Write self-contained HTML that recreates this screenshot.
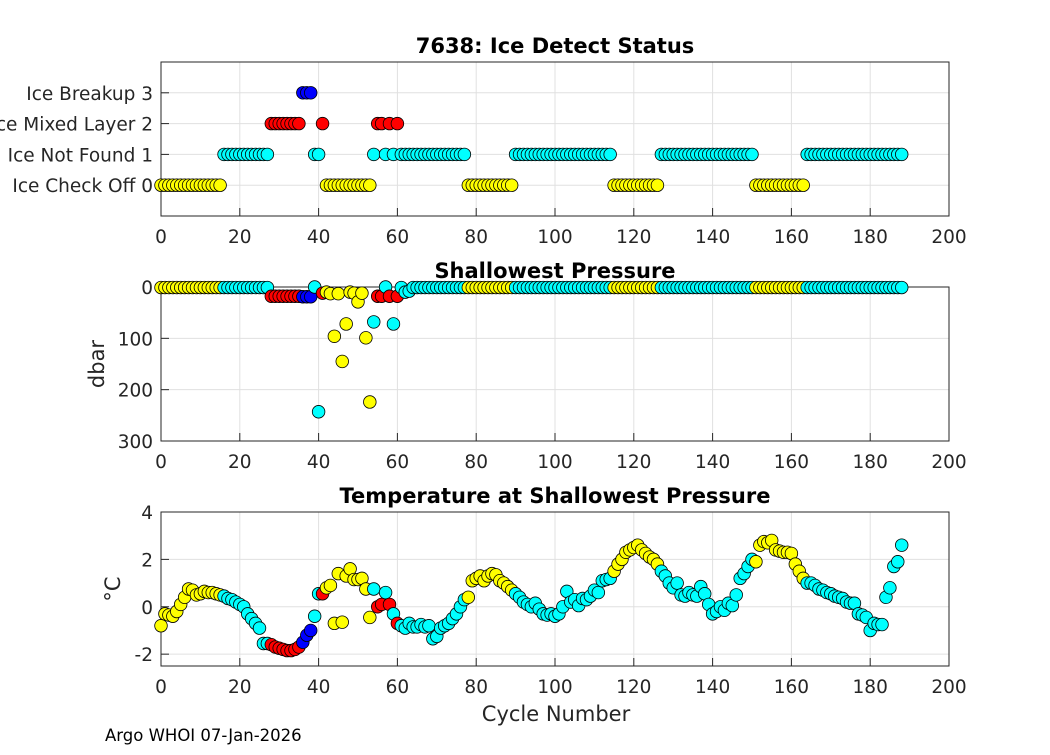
<!DOCTYPE html>
<html><head><meta charset="utf-8"><style>
body{margin:0;background:#fff;}
svg text{font-family:"DejaVu Sans","Liberation Sans",sans-serif;}
</style></head><body>
<svg id="fig" width="1050" height="750" xmlns="http://www.w3.org/2000/svg">
<rect width="1050" height="750" fill="#fff"/>
<g id="g1"></g>
<g id="g2"></g>
<g id="g3"></g>
<text x="105" y="741" font-size="16.5" fill="#000">Argo WHOI 07-Jan-2026</text>
</svg>
<script>
const statusRanges=[[0,15,0],[16,27,1],[28,35,2],[36,38,3],[39,40,1],[41,41,2],[42,53,0],[54,54,1],[55,56,2],[57,57,1],[58,58,2],[59,59,1],[60,60,2],[61,77,1],[78,89,0],[90,114,1],[115,126,0],[127,150,1],[151,163,0],[164,188,1]];
const pressureOverrides={39:0,40:243,41:12,42:10,43:13,44:96,45:13,46:145,47:72,48:10,49:12,50:29,51:12,52:99,53:224,54:68,57:0,59:72,62:10,63:8};
const temps=[-0.8,-0.3,-0.35,-0.4,-0.2,0.1,0.4,0.75,0.7,0.5,0.55,0.65,0.6,0.6,0.55,0.5,0.45,0.35,0.3,0.2,0.1,0.0,-0.3,-0.5,-0.7,-0.9,-1.55,-1.55,-1.6,-1.7,-1.75,-1.8,-1.85,-1.85,-1.8,-1.7,-1.5,-1.2,-1.0,-0.4,0.55,0.55,0.8,0.9,-0.7,1.4,-0.65,1.3,1.6,1.15,1.15,1.2,0.75,-0.45,0.75,0.0,0.1,0.6,0.1,-0.3,-0.7,-0.8,-0.9,-0.7,-0.85,-0.85,-0.75,-0.85,-0.8,-1.35,-1.25,-0.9,-0.8,-0.7,-0.5,-0.3,0.0,0.3,0.4,1.1,1.2,1.3,1.1,1.3,1.4,1.35,1.1,1.0,0.85,0.7,0.55,0.4,0.2,0.1,0.0,0.15,-0.1,-0.3,-0.35,-0.3,-0.4,-0.3,0.0,0.65,0.2,0.3,0.05,0.35,0.3,0.45,0.7,0.6,1.1,1.15,1.2,1.5,1.8,2.0,2.3,2.4,2.5,2.6,2.4,2.25,2.1,2.0,1.8,1.5,1.3,1.0,0.8,1.0,0.5,0.45,0.6,0.5,0.45,0.85,0.55,0.1,-0.3,-0.2,0.0,-0.15,0.15,0.05,0.5,1.2,1.4,1.7,2.0,1.9,2.6,2.75,2.7,2.8,2.4,2.35,2.3,2.3,2.25,1.8,1.5,1.2,1.0,1.0,0.9,0.75,0.7,0.6,0.55,0.45,0.4,0.35,0.2,0.15,0.15,-0.3,-0.35,-0.45,-1.0,-0.7,-0.75,-0.75,0.4,0.8,1.7,1.9,2.6];
const xTicks=[0,20,40,60,80,100,120,140,160,180,200];
const statusLabels=["Ice Check Off 0","Ice Not Found 1","Ice Mixed Layer 2","Ice Breakup 3"];
const pTicks=[0,100,200,300];
const tTicks=[-2,0,2,4];
const colors=["#ffff00","#00ffff","#ff0000","#0000ff"];

const NS="http://www.w3.org/2000/svg";
function mk(parent,tag,attrs){const e=document.createElementNS(NS,tag);for(const k in attrs)e.setAttribute(k,attrs[k]);parent.appendChild(e);return e;}
const X0=161,X1=949;
const xs=c=>X0+(c/200)*(X1-X0);
const cycles=temps.map((_,i)=>i);
const status=cycles.map(c=>{for(const r of statusRanges)if(c>=r[0]&&c<=r[1])return r[2];return 1;});
const pres=cycles.map(c=>{if(c in pressureOverrides)return pressureOverrides[c];const s=status[c];return s===2?18:(s===3?19:1);});

function panel(g,top,bot,ymin,ymax,rev,yt,ylabels,title){
  const ys=v=>rev? top+(v-ymin)/(ymax-ymin)*(bot-top) : bot-(v-ymin)/(ymax-ymin)*(bot-top);
  mk(g,'rect',{x:X0,y:top,width:X1-X0,height:bot-top,fill:'#fff'});
  xTicks.forEach(t=>{const l=mk(g,'line',{x1:xs(t),x2:xs(t),y1:top,y2:bot,stroke:'#e0e0e0','stroke-width':1});
    
    });
  yt.forEach(t=>{const l=mk(g,'line',{x1:X0,x2:X1,y1:ys(t),y2:ys(t),stroke:'#e0e0e0','stroke-width':1});
    
    });
  const f=mk(g,'rect',{x:X0,y:top,width:X1-X0,height:bot-top,fill:'none',stroke:'#262626','stroke-width':1});
  
  
  xTicks.forEach(t=>{mk(g,'line',{x1:xs(t),x2:xs(t),y1:bot,y2:bot-8,stroke:'#262626'});
    const tx=mk(g,'text',{x:xs(t),y:bot+27,'font-size':18.5,'text-anchor':'middle',fill:'#262626'});tx.textContent=t;
    
    });
  yt.forEach((t,i)=>{mk(g,'line',{x1:X0,x2:X0+8,y1:ys(t),y2:ys(t),stroke:'#262626'});
    const tx=mk(g,'text',{x:X0-8,y:ys(t)+7,'font-size':18.5,'text-anchor':'end',fill:'#262626'});tx.textContent=ylabels?ylabels[i]:t;
    
    });
  const ti=mk(g,'text',{x:(X0+X1)/2,y:top-9,'font-size':21,'font-weight':'bold','text-anchor':'middle',fill:'#000'});ti.textContent=title;
  
  
  return ys;
}
function pts(g,ys,vals,name){
  vals.forEach((v,i)=>{const c=mk(g,'circle',{cx:xs(cycles[i]),cy:ys(v),r:6.3,fill:colors[status[i]],stroke:'#000','stroke-width':0.8});
    
    });
}
const g1=document.getElementById('g1'),g2=document.getElementById('g2'),g3=document.getElementById('g3');
const y1=panel(g1,62,216,-1,4,false,[0,1,2,3],statusLabels,'7638: Ice Detect Status');
pts(g1,y1,status,'status-point');
const y2=panel(g2,287,441,0,300,true,pTicks,null,'Shallowest Pressure');
pts(g2,y2,pres,'pressure-point');
const y3=panel(g3,512,666,-2.5,4,false,tTicks,null,'Temperature at Shallowest Pressure');
pts(g3,y3,temps,'temperature-point');
let t=mk(g2,'text',{x:104,y:364,'font-size':21,'text-anchor':'middle',fill:'#262626',transform:'rotate(-90 104 364)'});t.textContent='dbar';


t=mk(g3,'text',{x:120,y:589,'font-size':21,'text-anchor':'middle',fill:'#262626',transform:'rotate(-90 120 589)'});t.textContent='°C';


t=mk(g3,'text',{x:556,y:721,'font-size':21,'text-anchor':'middle',fill:'#262626'});t.textContent='Cycle Number';


</script>
</body></html>
